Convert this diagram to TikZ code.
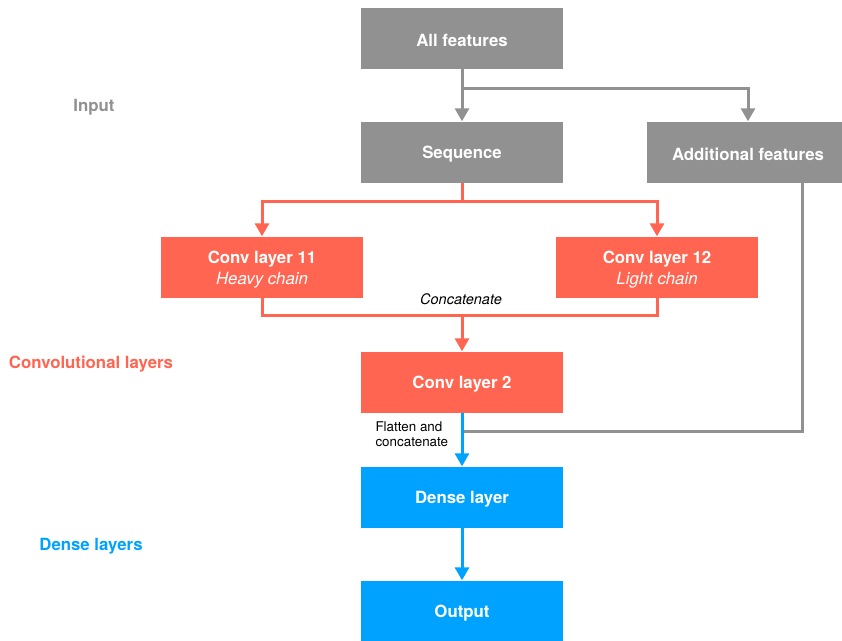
\documentclass[tikz,border=0pt]{standalone}
\usepackage{fontspec}
\setmainfont{TeX Gyre Heros}
\usetikzlibrary{arrows.meta}

\definecolor{boxgray}{RGB}{145,145,145}
\definecolor{convred}{RGB}{255,101,80}
\definecolor{denseblue}{RGB}{0,162,255}

\tikzstyle{layer}=[rectangle,minimum width=202pt,minimum height=61pt,inner sep=0pt]
\tikzstyle{layertext}=[text=white,align=center,inner sep=0pt,yshift=-2.5pt,font=\fontsize{16.8}{21}\selectfont\bfseries]
\tikzstyle{wire}=[draw,line width=3pt]
\tikzstyle{link}=[wire,-{Triangle[width=14pt,length=13pt]}]
\tikzstyle{section}=[font=\fontsize{16.8}{20}\selectfont\bfseries]
\tikzstyle{note}=[font=\fontsize{13.4}{15.5}\selectfont,align=left]

\begin{document}
\begin{tikzpicture}[x=1pt,y=-1pt]
    \clip (0,0) rectangle (842,640);
    % First we draw the layer boxes
    \foreach \pos/\name/\col/\txt in {{(462,38)/all/boxgray/All features}, {(462,152)/seq/boxgray/Sequence}, {(748,152)/addf/boxgray/Additional features}, {(262,267)/conva/convred/Conv layer 11\\{\mdseries\itshape Heavy chain}}, {(657,267)/convb/convred/Conv layer 12\\{\mdseries\itshape Light chain}}, {(462,382)/conv/convred/Conv layer 2}, {(462,497)/dense/denseblue/Dense layer}, {(462,611)/output/denseblue/Output}}
        \node[layer,fill=\col,label={[layertext]center:\txt}] (\name) at \pos {};
    % Section labels on the left
    \node[section,text=boxgray] (input) at (94,107) {Input};
    \node[section,text=convred] (convlabel) at (91,364) {Convolutional layers};
    \node[section,text=denseblue] (denselabel) at (91,546) {Dense layers};
    % Branch points
    \coordinate (split) at (462,88);
    \coordinate (fork) at (462,201);
    \coordinate (join) at (462,315);
    \coordinate (merge) at (463,431);
    % Connect the boxes
    \path[link,draw=boxgray] (all) -- (seq);
    \path[link,draw=boxgray] (split) -| (addf.north);
    \path[wire,draw=convred] (seq.south) -- (fork);
    \path[wire,draw=convred,{Triangle[width=14pt,length=13pt]}-{Triangle[width=14pt,length=13pt]}] (conva.north) |- (fork) -| (convb.north);
    \path[wire,draw=convred] (conva.south) |- (join) -| (convb.south);
    \path[link,draw=convred] (join) -- (conv.north);
    \path[wire,draw=boxgray] ([xshift=54pt]addf.south) |- (merge);
    \path[link,draw=denseblue] (conv) -- (dense);
    \path[link,draw=denseblue] (dense) -- (output);
    % Notes on the connectors
    \node[font=\fontsize{14.5}{17}\selectfont\itshape] (concat) at (461,299) {Concatenate};
    \node[note,anchor=west] (flatten) at (372,434) {Flatten and\\concatenate};
\end{tikzpicture}
\end{document}
